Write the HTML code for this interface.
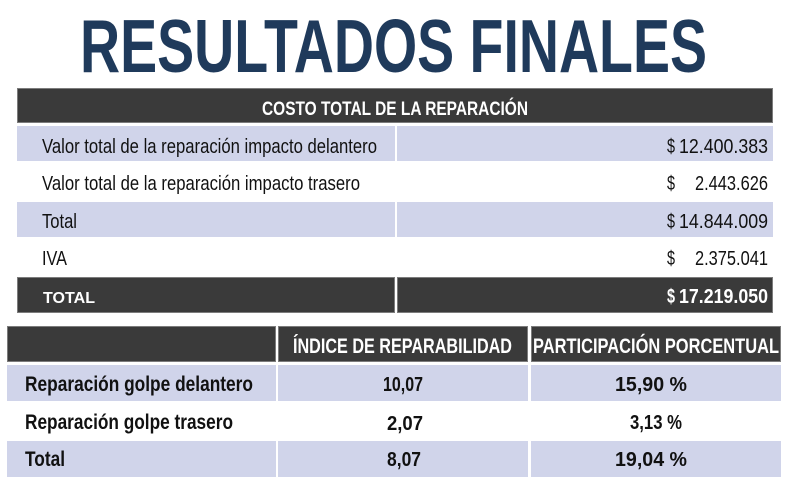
<!DOCTYPE html>
<html>
<head>
<meta charset="utf-8">
<style>
html,body{margin:0;padding:0;background:#fff;}
svg{display:block;}
text{font-family:"Liberation Sans",Arial,sans-serif;}
</style>
</head>
<body>
<svg width="800" height="490" viewBox="0 0 800 490" xmlns="http://www.w3.org/2000/svg">
<rect x="0" y="0" width="800" height="490" fill="#ffffff"/>

<!-- Title -->
<text x="80" y="72" font-size="75" font-weight="bold" fill="#1f3a5b" textLength="627" lengthAdjust="spacingAndGlyphs">RESULTADOS FINALES</text>

<!-- Table 1 -->
<rect x="17.5" y="88.5" width="755" height="34" fill="#3a3a3a" stroke="#7c7c7c" stroke-width="1"/>
<text x="262" y="115" font-size="19" font-weight="bold" fill="#ffffff" textLength="266" lengthAdjust="spacingAndGlyphs">COSTO TOTAL DE LA REPARACIÓN</text>

<rect x="17" y="126" width="378" height="35" fill="#d0d4ea"/>
<rect x="397" y="126" width="376" height="35" fill="#d0d4ea"/>
<rect x="17" y="202" width="378" height="35" fill="#d0d4ea"/>
<rect x="397" y="202" width="376" height="35" fill="#d0d4ea"/>

<rect x="17.5" y="277.5" width="377" height="35" fill="#3a3a3a" stroke="#7c7c7c" stroke-width="1"/>
<rect x="397.5" y="277.5" width="375" height="35" fill="#3a3a3a" stroke="#7c7c7c" stroke-width="1"/>

<g font-size="20.5" fill="#111111">
<text x="42" y="153" textLength="335" lengthAdjust="spacingAndGlyphs">Valor total de la reparación impacto delantero</text>
<text x="42" y="190" textLength="318" lengthAdjust="spacingAndGlyphs">Valor total de la reparación impacto trasero</text>
<text x="42" y="228" textLength="35" lengthAdjust="spacingAndGlyphs">Total</text>
<text x="42" y="265" textLength="25" lengthAdjust="spacingAndGlyphs">IVA</text>

<text x="667" y="153" textLength="8" lengthAdjust="spacingAndGlyphs">$</text>
<text x="679" y="153" textLength="89" lengthAdjust="spacingAndGlyphs">12.400.383</text>
<text x="667" y="190" textLength="8" lengthAdjust="spacingAndGlyphs">$</text>
<text x="695" y="190" textLength="73" lengthAdjust="spacingAndGlyphs">2.443.626</text>
<text x="667" y="228" textLength="8" lengthAdjust="spacingAndGlyphs">$</text>
<text x="679" y="228" textLength="89" lengthAdjust="spacingAndGlyphs">14.844.009</text>
<text x="667" y="265" textLength="8" lengthAdjust="spacingAndGlyphs">$</text>
<text x="695" y="265" textLength="73" lengthAdjust="spacingAndGlyphs">2.375.041</text>
</g>

<text x="43" y="303" font-size="16" font-weight="bold" fill="#ffffff" textLength="52" lengthAdjust="spacingAndGlyphs">TOTAL</text>
<text x="667" y="303" font-size="20" font-weight="bold" fill="#ffffff" textLength="8" lengthAdjust="spacingAndGlyphs">$</text>
<text x="679" y="303" font-size="20" font-weight="bold" fill="#ffffff" textLength="89" lengthAdjust="spacingAndGlyphs">17.219.050</text>

<!-- Table 2 -->
<rect x="7.5" y="326.5" width="268" height="35" fill="#3a3a3a" stroke="#7c7c7c" stroke-width="1"/>
<rect x="278.5" y="326.5" width="249" height="35" fill="#3a3a3a" stroke="#7c7c7c" stroke-width="1"/>
<rect x="531.5" y="326.5" width="249" height="35" fill="#3a3a3a" stroke="#7c7c7c" stroke-width="1"/>

<text x="293" y="353" font-size="21" font-weight="bold" fill="#ffffff" textLength="219" lengthAdjust="spacingAndGlyphs">ÍNDICE DE REPARABILIDAD</text>
<text x="533" y="353" font-size="21" font-weight="bold" fill="#ffffff" textLength="246" lengthAdjust="spacingAndGlyphs">PARTICIPACIÓN PORCENTUAL</text>

<rect x="7" y="365" width="269" height="36" fill="#d0d4ea"/>
<rect x="278" y="365" width="250" height="36" fill="#d0d4ea"/>
<rect x="531" y="365" width="250" height="36" fill="#d0d4ea"/>
<rect x="7" y="441" width="269" height="36" fill="#d0d4ea"/>
<rect x="278" y="441" width="250" height="36" fill="#d0d4ea"/>
<rect x="531" y="441" width="250" height="36" fill="#d0d4ea"/>

<g font-size="21" font-weight="bold" fill="#111111">
<text x="25" y="391" textLength="228" lengthAdjust="spacingAndGlyphs">Reparación golpe delantero</text>
<text x="25" y="429" textLength="208" lengthAdjust="spacingAndGlyphs">Reparación golpe trasero</text>
<text x="25" y="466" textLength="40" lengthAdjust="spacingAndGlyphs">Total</text>
</g>
<g font-size="20" font-weight="bold" fill="#111111">
<text x="383" y="391" textLength="40" lengthAdjust="spacingAndGlyphs">10,07</text>
<text x="387" y="430" textLength="36" lengthAdjust="spacingAndGlyphs">2,07</text>
<text x="387" y="466" textLength="34" lengthAdjust="spacingAndGlyphs">8,07</text>

<text x="615" y="391" textLength="72" lengthAdjust="spacingAndGlyphs">15,90 %</text>
<text x="630" y="429" textLength="52" lengthAdjust="spacingAndGlyphs">3,13 %</text>
<text x="615" y="466" textLength="72" lengthAdjust="spacingAndGlyphs">19,04 %</text>
</g>
</svg>
</body>
</html>
